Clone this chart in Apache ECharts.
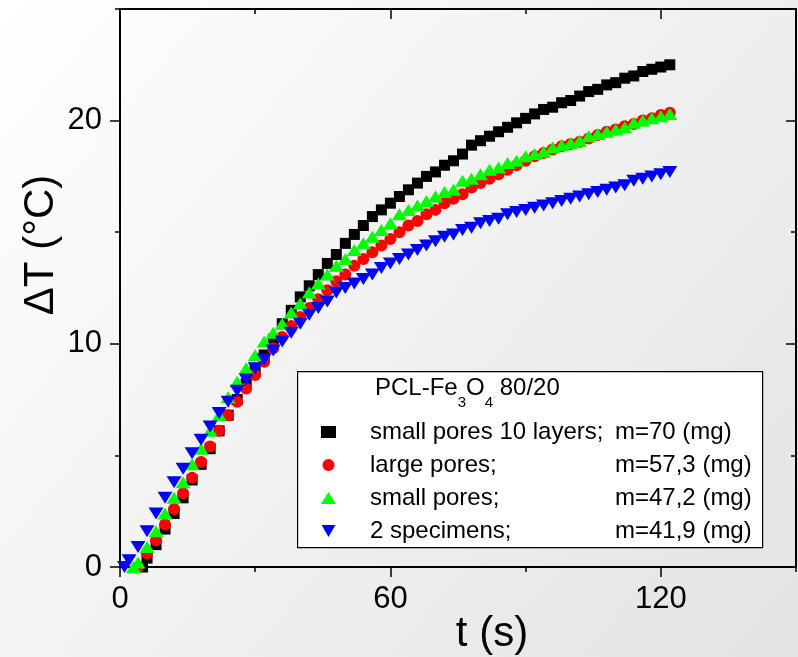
<!DOCTYPE html>
<html>
<head>
<meta charset="utf-8">
<script src="https://cdn.jsdelivr.net/npm/echarts@6/dist/echarts.min.js"></script>
<style>html,body{margin:0;padding:0;}#c{width:798px;height:657px;}</style>
</head>
<body>
<div id="c"></div>
<script>
// ---- data ----
const seriesNames = ['small pores 10 layers;', 'large pores;', 'small pores;', '2 specimens;'];
const masses = ['m=70 (mg)', 'm=57,3 (mg)', 'm=47,2 (mg)', 'm=41,9 (mg)'];
const legendTitle = ['PCL-Fe', '3', 'O', '4', ' 80/20'];
const xTicks = [0, 60, 120];
const yTicks = [0, 10, 20];

const tBlack = [5,6,8,10,12,14,16,18,20,22,24,26,28,30,32,34,36,38,40,42,44,46,48,50,52,54,56,58,60,62,64,66,68,70,72,74,76,78,80,82,84,86,88,90,92,94,96,98,100,102,104,106,108,110,112,114,116,118,120,122];
const vBlack = [0,0.4,1.0,1.7,2.4,3.1,3.9,4.6,5.3,6.1,6.8,7.5,8.2,8.9,9.5,10.2,10.9,11.5,12.1,12.6,13.1,13.6,14.0,14.5,14.9,15.3,15.7,16.0,16.3,16.6,16.9,17.2,17.5,17.7,18.0,18.2,18.5,18.9,19.1,19.3,19.5,19.7,19.9,20.1,20.3,20.5,20.6,20.8,20.9,21.1,21.3,21.4,21.6,21.7,21.9,22.0,22.2,22.3,22.4,22.5];

const tRed = [4,6,8,10,12,14,16,18,20,22,24,26,28,30,32,34,36,38,40,42,44,46,48,50,52,54,56,58,60,62,64,66,68,70,72,74,76,78,80,82,84,86,88,90,92,94,96,98,100,102,104,106,108,110,112,114,116,118,120,122];
const vRed = [0,0.6,1.2,1.9,2.6,3.3,4.0,4.7,5.4,6.1,6.8,7.4,8.0,8.6,9.2,9.8,10.3,10.8,11.2,11.6,12.0,12.4,12.8,13.1,13.5,13.8,14.1,14.4,14.7,15.0,15.3,15.5,15.8,16.0,16.3,16.5,16.7,17.0,17.2,17.4,17.6,17.8,18.0,18.2,18.4,18.55,18.7,18.85,18.95,19.05,19.2,19.35,19.5,19.6,19.75,19.85,20.0,20.1,20.25,20.35];

const tGreen = [3,4,6,8,10,12,14,16,18,20,22,24,26,28,30,32,34,36,38,40,42,44,46,48,50,52,54,56,58,60,62,64,66,68,70,72,74,76,78,80,82,84,86,88,90,92,94,96,98,100,102,104,106,108,110,112,114,116,118,120,122];
const vGreen = [0,0.2,0.9,1.6,2.4,3.1,3.8,4.6,5.3,6.1,6.8,7.6,8.3,8.9,9.5,10.1,10.5,10.9,11.4,11.8,12.3,12.7,13.1,13.5,13.8,14.2,14.5,14.8,15.1,15.4,15.8,16.0,16.2,16.4,16.6,16.8,16.9,17.3,17.4,17.6,17.8,17.9,18.1,18.2,18.4,18.5,18.6,18.8,18.9,19.0,19.1,19.3,19.4,19.5,19.6,19.7,19.9,20.0,20.1,20.2,20.3];

const tBlue = [1,2,4,6,8,10,12,14,16,18,20,22,24,26,28,30,32,34,36,38,40,42,44,46,48,50,52,54,56,58,60,62,64,66,68,70,72,74,76,78,80,82,84,86,88,90,92,94,96,98,100,102,104,106,108,110,112,114,116,118,120,122];
const vBlue = [0,0.3,0.9,1.6,2.4,3.1,3.8,4.4,5.1,5.7,6.3,6.9,7.4,7.9,8.4,8.9,9.3,9.7,10.1,10.5,10.9,11.3,11.6,11.9,12.3,12.5,12.7,12.9,13.1,13.4,13.6,13.8,14.0,14.2,14.4,14.6,14.8,14.9,15.1,15.2,15.4,15.5,15.6,15.8,15.9,16.0,16.1,16.2,16.3,16.4,16.5,16.6,16.7,16.8,16.9,17.0,17.1,17.3,17.4,17.5,17.6,17.7];

// ---- chart ----
const pair = (ts, vs) => ts.map((t, i) => [t, vs[i]]);
const seriesData = [pair(tBlack, vBlack), pair(tRed, vRed), pair(tGreen, vGreen), pair(tBlue, vBlue)];
const colors = ['#000000', '#ff0000', '#00ff00', '#0000ff'];
const symbols = ['rect', 'circle', 'triangle', 'path://M0,0L2,0L1,1.732Z'];
const symbolSizes = [11, 12, [15, 12], [15, 12]];

const TICKFONT = "'Liberation Sans',Arial,sans-serif";
const SANS = "'Liberation Sans',Arial,sans-serif";
const X_MIN = 0, X_MAX = 150, Y_MIN = 0, Y_MAX = 25;

function axisBase(extra) {
  return Object.assign({
    type: 'value',
    splitLine: { show: false },
    axisLine: { show: true, onZero: false, lineStyle: { color: '#000', width: 2 } },
  }, extra);
}
function mkX(position, interval, len, inside, labels) {
  return axisBase({
    position, min: X_MIN, max: X_MAX, interval,
    axisTick: { show: true, inside, length: len, lineStyle: { color: '#000', width: 1.5 } },
    axisLabel: labels ? {
      show: true, fontSize: 31, fontFamily: TICKFONT, color: '#000', margin: 17,
      showMaxLabel: false,
      formatter: v => xTicks.includes(v) ? String(v) : ''
    } : { show: false }
  });
}
function mkY(position, interval, len, inside, labels) {
  return axisBase({
    position, min: Y_MIN, max: Y_MAX, interval,
    axisTick: { show: true, inside, length: len, lineStyle: { color: '#000', width: 1.5 } },
    axisLabel: labels ? {
      show: true, fontSize: 31, fontFamily: TICKFONT, color: '#000', margin: 18,
      showMaxLabel: false,
      formatter: v => yTicks.includes(v) ? String(v) : ''
    } : { show: false }
  });
}

const chart = echarts.init(document.getElementById('c'), null, { renderer: 'canvas' });
const rich = {
  a: { fontSize: 24, fontFamily: SANS, color: '#000', width: 245, lineHeight: 24 },
  b: { fontSize: 24, fontFamily: SANS, color: '#000', lineHeight: 24 }
};
const titleRich = {
  m: { fontSize: 24, fontFamily: SANS, fontWeight: 'normal', color: '#000', lineHeight: 26, verticalAlign: 'top' },
  s: { fontSize: 15, fontFamily: SANS, fontWeight: 'normal', color: '#000', lineHeight: 15, verticalAlign: 'top', padding: [19, 0, 0, 0] }
};

chart.setOption({
  animation: false,
  backgroundColor: {
    type: 'linear', x: 0, y: 0, x2: 1, y2: 1,
    colorStops: [{ offset: 0, color: '#ffffff' }, { offset: 1, color: '#e3e3e3' }]
  },
  grid: { left: 120, right: 2, top: 9, bottom: 90, containLabel: false },
  xAxis: [
    mkX('bottom', 60, 10, false, true),
    mkX('bottom', 30, 5, false, false),
    mkX('top', 60, 10, true, false),
    mkX('top', 30, 5, true, false)
  ],
  yAxis: [
    mkY('left', 10, 10, false, true),
    mkY('left', 5, 5, false, false),
    mkY('right', 10, 10, true, false),
    mkY('right', 5, 5, true, false)
  ],
  title: {
    text: '{m|' + legendTitle[0] + '}{s|' + legendTitle[1] + '}{m|' + legendTitle[2] + '}{s|' + legendTitle[3] + '}{m|' + legendTitle[4] + '}',
    left: 375, top: 376, padding: 0, z: 8,
    textStyle: { fontWeight: 'normal', rich: titleRich }
  },
  legend: {
    orient: 'vertical', left: 321, top: 420, padding: 0, itemGap: 9,
    itemWidth: 15, itemHeight: 12, selectedMode: false, z: 7,
    data: seriesNames,
    formatter: name => '{a|' + name + '}{b|' + masses[seriesNames.indexOf(name)] + '}',
    textStyle: { rich, padding: [0, 0, 0, 29] }
  },
  graphic: [
    {
      type: 'rect', z: 5, left: 297, top: 371,
      shape: { width: 465, height: 176 },
      style: { fill: '#ffffff', stroke: '#000000', lineWidth: 1.2 }
    },
    {
      type: 'text', z: 5, x: 492, y: 634,
      style: { text: 't (s)', font: "42px 'Liberation Sans', Arial, sans-serif", fill: '#000', textAlign: 'center', textVerticalAlign: 'middle' }
    },
    {
      type: 'text', z: 5, x: 41, y: 245, rotation: Math.PI / 2,
      style: { text: 'ΔT (°C)', font: "42px 'Liberation Sans', Arial, sans-serif", fill: '#000', textAlign: 'center', textVerticalAlign: 'middle' }
    }
  ],
  series: seriesNames.map((name, i) => ({
    name, type: 'scatter', xAxisIndex: 0, yAxisIndex: 0,
    data: seriesData[i], symbol: symbols[i], symbolSize: symbolSizes[i],
    itemStyle: { color: colors[i], opacity: 1 },
    emphasis: { disabled: true }
  }))
});
</script>
</body>
</html>
